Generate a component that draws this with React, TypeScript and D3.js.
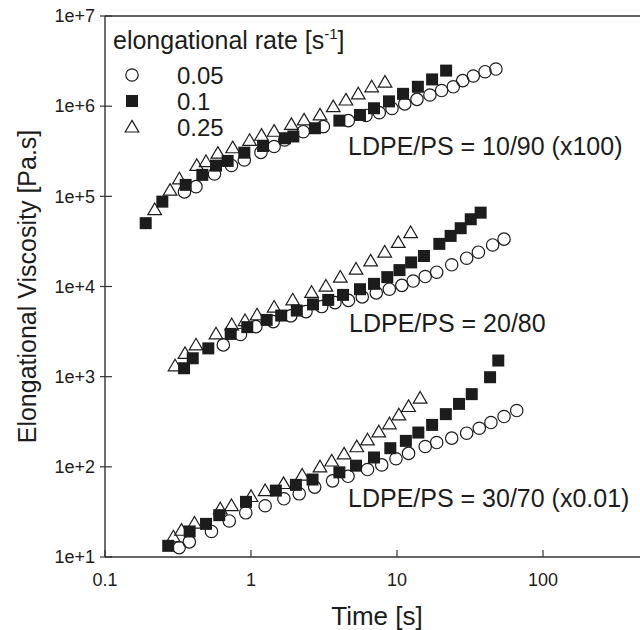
import React from 'react';
import * as d3 from 'd3';

// tick values and labels
const xTickValues = [0.1, 1, 10, 100];
const xTickLabels = ['0.1', '1', '10', '100'];
const yTickValues = [1e1, 1e2, 1e3, 1e4, 1e5, 1e6, 1e7];
const yTickLabels = ['1e+1', '1e+2', '1e+3', '1e+4', '1e+5', '1e+6', '1e+7'];

const rateLabels = ['0.05', '0.1', '0.25'];

// LDPE/PS = 10/90 (x100)  [time s, viscosity Pa.s]
const b1090_r005: [number, number][] = [[0.35, 1.12e5], [0.42, 1.28e5], [0.562, 1.77e5], [0.735, 2.2e5], [0.9, 2.53e5], [1.17, 3.07e5], [1.44, 3.57e5], [1.7, 4.22e5], [2.28, 5.21e5], [3.13, 5.93e5], [4.64, 6.91e5], [6.13, 7.89e5], [7.56, 8.47e5], [9.24, 9.43e5], [11.3, 1.06e6], [13.7, 1.19e6], [16.8, 1.33e6], [20.2, 1.49e6], [24.3, 1.64e6], [28.2, 1.92e6], [33.3, 2.16e6], [40.1, 2.41e6], [47.6, 2.58e6]];
const b1090_r01: [number, number][] = [[0.19, 5.04e4], [0.247, 8.73e4], [0.357, 1.34e5], [0.464, 1.73e5], [0.576, 2.19e5], [0.692, 2.47e5], [0.9, 3.05e5], [1.21, 3.62e5], [1.71, 4.41e5], [1.95, 4.61e5], [2.74, 5.69e5], [4.03, 6.91e5], [5.58, 7.99e5], [6.96, 9.48e5], [8.81, 1.13e6], [11.0, 1.37e6], [13.9, 1.64e6], [17.4, 1.98e6], [21.7, 2.48e6]];
const b1090_r025: [number, number][] = [[0.219, 7.12e4], [0.279, 1.17e5], [0.323, 1.56e5], [0.425, 2.2e5], [0.492, 2.43e5], [0.593, 3.01e5], [0.749, 3.46e5], [0.978, 4.17e5], [1.18, 4.76e5], [1.44, 5.27e5], [1.89, 6.27e5], [2.31, 7.03e5], [2.97, 7.99e5], [3.66, 9.87e5], [4.47, 1.17e6], [5.43, 1.37e6], [6.71, 1.64e6], [8.28, 1.85e6]];

// LDPE/PS = 20/80
const b2080_r005: [number, number][] = [[0.646, 2.25e3], [0.847, 2.94e3], [1.08, 3.59e3], [1.42, 4.08e3], [1.87, 4.72e3], [2.38, 5.27e3], [3.05, 5.99e3], [3.76, 6.63e3], [4.65, 7.01e3], [5.78, 7.67e3], [7.21, 8.49e3], [8.86, 9.33e3], [10.8, 1.03e4], [12.9, 1.15e4], [15.6, 1.29e4], [18.7, 1.44e4], [23.7, 1.74e4], [30.0, 2.06e4], [36.1, 2.4e4], [45.2, 2.89e4], [54.1, 3.35e4]];
const b2080_r01: [number, number][] = [[0.348, 1.24e3], [0.399, 1.6e3], [0.51, 2.06e3], [0.726, 2.98e3], [0.943, 3.54e3], [1.28, 4.26e3], [1.61, 4.76e3], [2.06, 5.41e3], [2.66, 6.33e3], [3.38, 7.1e3], [4.27, 8.07e3], [5.58, 9.33e3], [6.96, 1.07e4], [8.58, 1.27e4], [10.4, 1.52e4], [12.5, 1.85e4], [15.3, 2.18e4], [19.5, 2.97e4], [23.3, 3.64e4], [27.3, 4.43e4], [32.0, 5.57e4], [37.4, 6.59e4]];
const b2080_r025: [number, number][] = [[0.302, 1.32e3], [0.353, 1.81e3], [0.42, 2.25e3], [0.576, 2.98e3], [0.738, 3.75e3], [0.91, 4.19e3], [1.1, 4.84e3], [1.44, 5.9e3], [1.93, 7.1e3], [2.6, 8.6e3], [3.26, 1.01e4], [4.09, 1.27e4], [5.24, 1.56e4], [6.6, 1.92e4], [8.24, 2.41e4], [10.2, 3.08e4], [12.4, 3.96e4]];

// LDPE/PS = 30/70 (x0.01)
const b3070_r005: [number, number][] = [[0.322, 12.7], [0.378, 14.7], [0.536, 19.2], [0.71, 25.1], [0.921, 30.9], [1.25, 37.0], [1.68, 44.2], [2.14, 50.2], [2.73, 59.6], [3.62, 69.9], [4.62, 78.5], [6.28, 93.3], [7.86, 105], [9.84, 123], [12.0, 141], [15.6, 168], [18.7, 186], [23.7, 208], [30.0, 236], [36.6, 268], [44.0, 310], [54.1, 361], [66.1, 421]];
const b3070_r01: [number, number][] = [[0.271, 13.3], [0.38, 19.2], [0.492, 23.3], [0.606, 29.1], [0.924, 40.9], [1.48, 54.5], [2.03, 63.1], [2.64, 72.3], [4.03, 86.9], [5.24, 103], [6.96, 127], [9.0, 161], [11.5, 194], [14.0, 240], [17.4, 292], [21.6, 384], [26.6, 499], [32.5, 640], [43.4, 986], [49.4, 1510]];
const b3070_r025: [number, number][] = [[0.294, 16.7], [0.334, 19.8], [0.41, 23.8], [0.616, 34.2], [0.735, 37.2], [1.0, 46.9], [1.25, 54.5], [1.67, 65.3], [2.24, 80.9], [2.97, 100], [3.57, 116], [4.34, 139], [5.3, 167], [6.28, 199], [7.5, 244], [8.88, 300], [10.3, 377], [12.0, 467], [14.4, 578]];

const blendLabels = ['LDPE/PS = 10/90 (x100)', 'LDPE/PS = 20/80', 'LDPE/PS = 30/70 (x0.01)'];

const circleSeries = [b1090_r005, b2080_r005, b3070_r005];
const squareSeries = [b1090_r01, b2080_r01, b3070_r01];
const triangleSeries = [b1090_r025, b2080_r025, b3070_r025];

const FONT = '"Liberation Sans", Arial, Helvetica, sans-serif';
const INK = '#1c1c1c';
const R = 6.2; // circle radius
const SQ = 12; // square side

const triPath = (cx: number, cy: number) =>
    `M${cx},${cy - 6.6}L${cx + 6.8},${cy + 5}L${cx - 6.8},${cy + 5}Z`;

const App = () => {
    const width = 640;
    const height = 630;
    const left = 105;
    const top = 16;
    const bottom = 557;

    //log scales, one decade ~146 px in x and ~90 px in y
    const x = d3.scaleLog().domain([0.1, 1000]).range([left, left + 4 * 146]);
    const y = d3.scaleLog().domain([10, 1e7]).range([bottom, top]);
    const right = x(1000);

    const legendX = 132;
    const legendY = [75, 101, 127];
    const labelPos = [
        { x: 348, y: 155 },
        { x: 349, y: 332 },
        { x: 348, y: 507 },
    ];

    return (
        <svg
            width={width}
            height={height}
            style={{ position: 'absolute', left: 0, top: 0, background: '#fff' }}
            fontFamily={FONT}
        >
            <rect x={0} y={0} width={width} height={height} fill="#fff" />

            {/* frame */}
            <line x1={left} x2={left} y1={top} y2={bottom} stroke="#333" strokeWidth={1.4} />
            <line x1={left} x2={right} y1={top} y2={top} stroke="#333" strokeWidth={1.4} />
            <line x1={left} x2={right} y1={bottom} y2={bottom} stroke="#333" strokeWidth={1.4} />

            {/* y ticks */}
            {yTickValues.map((v, i) => (
                <g key={'yt' + i}>
                    <line x1={left - 5} x2={left + 7} y1={y(v)} y2={y(v)} stroke="#333" strokeWidth={1.2} />
                    <text x={left - 10} y={y(v)} dy="0.35em" textAnchor="end" fontSize={18} fill={INK}>
                        {yTickLabels[i]}
                    </text>
                </g>
            ))}

            {/* x ticks */}
            {xTickValues.map((v, i) => (
                <g key={'xt' + i}>
                    <line x1={x(v)} x2={x(v)} y1={bottom} y2={bottom - 7} stroke="#333" strokeWidth={1.2} />
                    <text x={x(v)} y={586} textAnchor="middle" fontSize={18} fill={INK}>
                        {xTickLabels[i]}
                    </text>
                </g>
            ))}

            {/* axis titles */}
            <text x={377} y={625} textAnchor="middle" fontSize={26} fill={INK}>Time [s]</text>
            <text
                transform={`translate(36,${(top + bottom) / 2}) rotate(-90)`}
                textAnchor="middle"
                fontSize={25}
                fill={INK}
            >
                Elongational Viscosity [Pa.s]
            </text>

            {/* data: 0.05 circles */}
            {circleSeries.map((s, k) => (
                <g key={'c' + k}>
                    {s.map((d, i) => (
                        <circle key={i} cx={x(d[0])} cy={y(d[1])} r={R} fill="none" stroke={INK} strokeWidth={1.2} />
                    ))}
                </g>
            ))}

            {/* data: 0.25 triangles */}
            {triangleSeries.map((s, k) => (
                <g key={'t' + k}>
                    {s.map((d, i) => (
                        <path key={i} d={triPath(x(d[0]), y(d[1]))} fill="none" stroke={INK} strokeWidth={1.2} />
                    ))}
                </g>
            ))}

            {/* data: 0.1 squares */}
            {squareSeries.map((s, k) => (
                <g key={'s' + k}>
                    {s.map((d, i) => (
                        <rect key={i} x={x(d[0]) - SQ / 2} y={y(d[1]) - SQ / 2} width={SQ} height={SQ} fill={INK} />
                    ))}
                </g>
            ))}

            {/* blend labels */}
            {blendLabels.map((t, i) => (
                <text key={'bl' + i} x={labelPos[i].x} y={labelPos[i].y} fontSize={25} fill={INK}>
                    {t}
                </text>
            ))}

            {/* legend */}
            <text x={113} y={49} fontSize={25} fill={INK}>
                elongational rate [s
                <tspan dy={-10} fontSize={15}>-1</tspan>
                <tspan dy={10}>]</tspan>
            </text>
            <circle cx={legendX} cy={legendY[0]} r={R} fill="none" stroke={INK} strokeWidth={1.2} />
            <rect x={legendX - SQ / 2} y={legendY[1] - SQ / 2} width={SQ} height={SQ} fill={INK} />
            <path d={triPath(legendX, legendY[2])} fill="none" stroke={INK} strokeWidth={1.2} />
            {rateLabels.map((t, i) => (
                <text key={'rl' + i} x={177} y={legendY[i]} dy="0.36em" fontSize={24} fill={INK}>
                    {t}
                </text>
            ))}
        </svg>
    );
};

export default App;
